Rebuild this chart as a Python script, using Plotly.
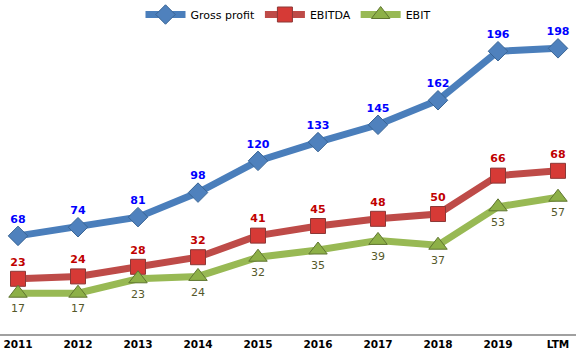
import plotly.graph_objects as go

categories = ["2011", "2012", "2013", "2014", "2015", "2016", "2017", "2018", "2019", "LTM"]
gross_profit = [68, 74, 81, 98, 120, 133, 145, 162, 196, 198]
ebitda = [23, 24, 28, 32, 41, 45, 48, 50, 66, 68]
ebit = [17, 17, 23, 24, 32, 35, 39, 37, 53, 57]

fig = go.Figure()
fig.add_trace(go.Scatter(
    x=categories, y=gross_profit, name="Gross profit", mode="lines+markers+text",
    line=dict(color="#4A7EBB", width=7),
    marker=dict(symbol="diamond", size=15, color="#4F81BD", line=dict(color="#3A6595", width=1)),
    text=[str(v) for v in gross_profit], textposition="top center",
    textfont=dict(family="DejaVu Sans", size=11, color="#0000FF", weight="bold"),
    cliponaxis=False,
))
fig.add_trace(go.Scatter(
    x=categories, y=ebitda, name="EBITDA", mode="lines+markers+text", yaxis="y2",
    line=dict(color="#BE4B48", width=7),
    marker=dict(symbol="square", size=15, color="#D63A36", line=dict(color="#8C3836", width=1)),
    text=[str(v) for v in ebitda], textposition="top center",
    textfont=dict(family="DejaVu Sans", size=11, color="#C00000", weight="bold"),
    cliponaxis=False,
))
fig.add_trace(go.Scatter(
    x=categories, y=ebit, name="EBIT", mode="lines+markers+text", yaxis="y2",
    line=dict(color="#98B954", width=7),
    marker=dict(symbol="triangle-up", size=16, color="#8DB047", line=dict(color="#5F7530", width=1)),
    text=[str(v) for v in ebit], textposition="bottom center",
    textfont=dict(family="DejaVu Sans", size=11, color="#55582A"),
    cliponaxis=False,
))

fig.update_layout(
    width=576, height=363,
    margin=dict(l=0, r=0, t=20, b=29),
    paper_bgcolor="white", plot_bgcolor="white",
    showlegend=True,
    legend=dict(orientation="h", x=0.5, xanchor="center", y=1.0, yanchor="bottom",
                font=dict(family="DejaVu Sans", size=11, color="#000000"),
                itemwidth=40, bgcolor="rgba(0,0,0,0)"),
    xaxis=dict(type="category", range=[-0.3, 9.3], showgrid=False, zeroline=False,
               showline=True, linecolor="#A0A0A0", linewidth=1.5, ticks="", automargin=False,
               tickfont=dict(family="DejaVu Sans", size=10.5, color="#000000", weight="bold")),
    yaxis=dict(range=[0, 211.4], visible=False, showgrid=False, zeroline=False, automargin=False),
    yaxis2=dict(range=[0, 127.1], overlaying="y", side="right", visible=False,
                showgrid=False, zeroline=False, automargin=False),
)

fig.write_html("out.html", config={"displayModeBar": False},
               post_script="document.body.style.margin='0';")
